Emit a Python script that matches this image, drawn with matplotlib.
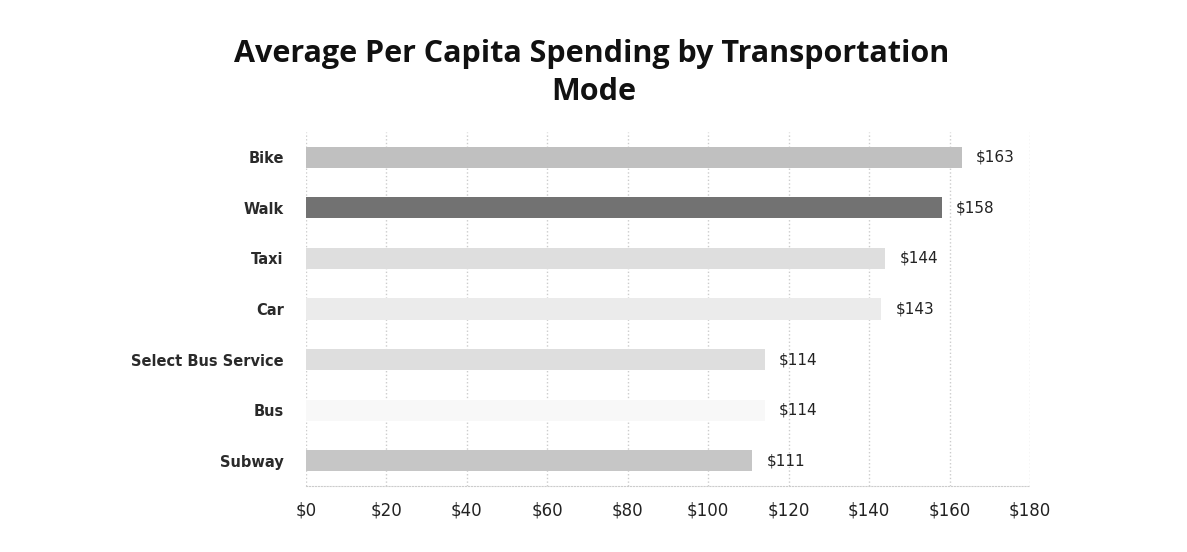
import numpy as np
from matplotlib import pyplot as plt

# data
modes = ["Bike", "Walk", "Taxi", "Car", "Select Bus Service", "Bus", "Subway"]
spending = [163, 158, 144, 143, 114, 114, 111]
bar_colors = ["#c0c0c0", "#727272", "#dedede", "#ebebeb", "#dedede", "#f8f8f8", "#c6c6c6"]
xticks = [0, 20, 40, 60, 80, 100, 120, 140, 160, 180]

plt.rcParams['font.family'] = ['DejaVu Sans']

W, H = 1187, 552
fig = plt.figure(figsize=(W / 100, H / 100), dpi=100)
ax = fig.add_axes([306 / W, 1 - 486 / H, 724 / W, 354 / H])

ypos = np.arange(len(modes))
ax.barh(ypos, spending, height=0.42, color=bar_colors)

for y, v in zip(ypos, spending):
	ax.text(v + 3.5, y, "$" + str(v), va='center', ha='left', fontsize=11, color='#222222')

ax.set_ylim(len(modes) - 0.5, -0.5)
ax.set_xlim(0, 180)
ax.set_yticks(ypos)
ax.set_yticklabels(modes, fontsize=10.5, fontweight='bold', color='#2a2a2a')
ax.set_xticks(xticks)
ax.set_xticklabels(["$" + str(t) for t in xticks], fontsize=12, color='#222222')
ax.tick_params(axis='both', length=0)
ax.tick_params(axis='y', pad=16)
ax.tick_params(axis='x', pad=11)

ax.grid(axis='x', color='#cccccc', linestyle=':', linewidth=1)
ax.set_axisbelow(True)
for s in ['top', 'right', 'left']:
	ax.spines[s].set_visible(False)
ax.spines['bottom'].set_color('#cccccc')
ax.spines['bottom'].set_linestyle(':')

# title, wrapped onto two lines as in the original
fig.text(592 / W, 1 - 62 / H, "Average Per Capita Spending by Transportation",
	ha='center', va='baseline', fontsize=22, fontweight='bold', color='#111111',
	family='Open Sans')
fig.text(594 / W, 1 - 100 / H, "Mode",
	ha='center', va='baseline', fontsize=22, fontweight='bold', color='#111111',
	family='Open Sans')

plt.savefig("out.png", dpi=100)
